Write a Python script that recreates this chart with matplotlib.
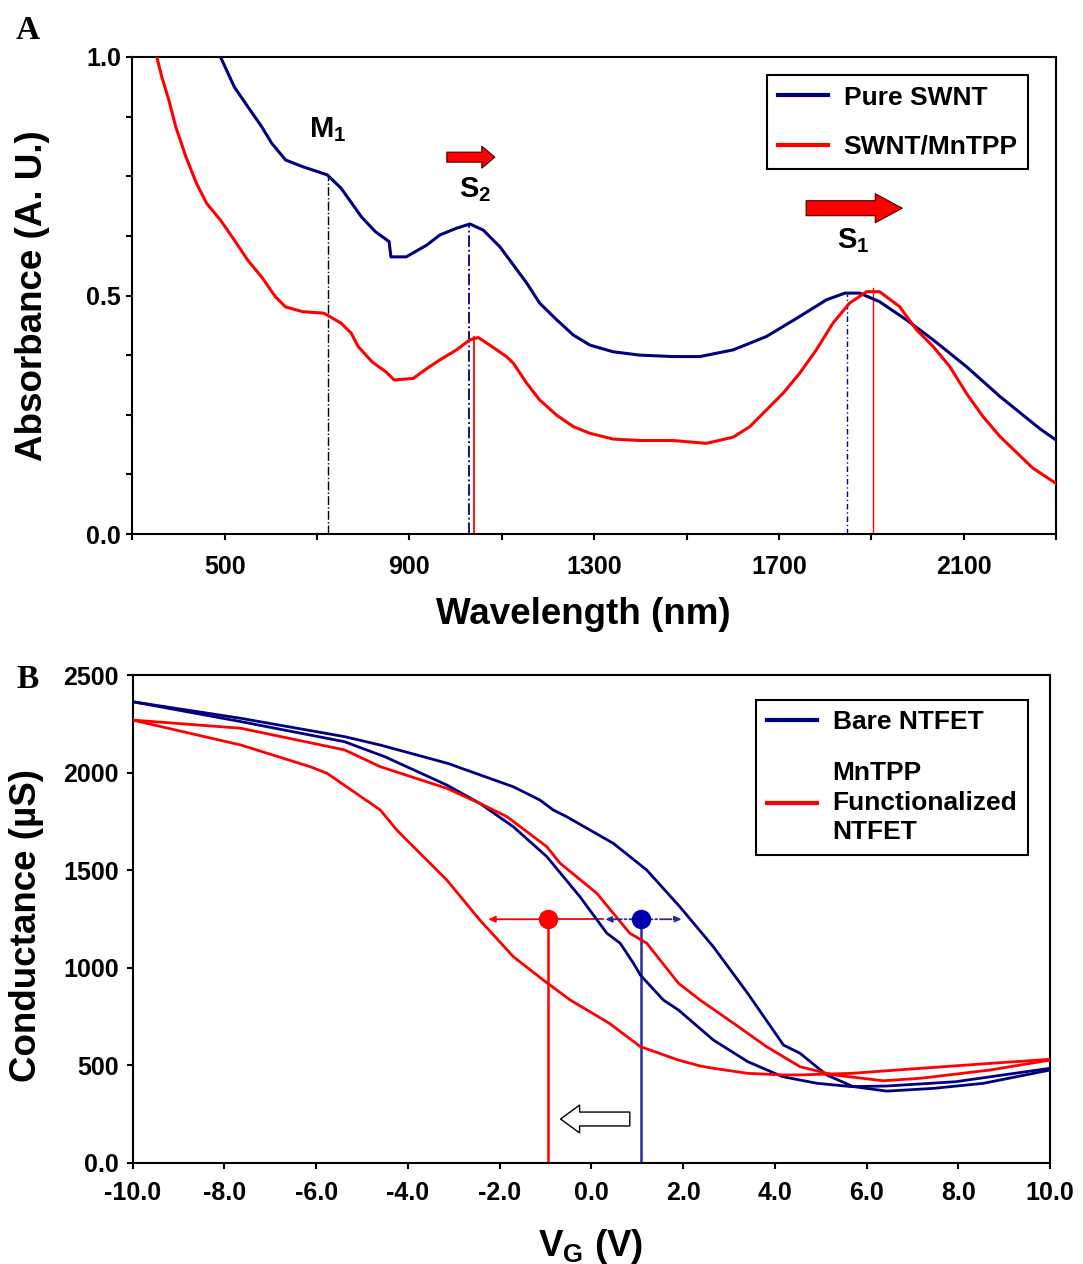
import matplotlib
matplotlib.use("Agg")
import matplotlib.pyplot as plt
from matplotlib.lines import Line2D
from matplotlib.font_manager import FontProperties

plt.rcParams['font.family'] = ['Liberation Sans', 'DejaVu Sans']
plt.rcParams['font.weight'] = 'bold'
plt.rcParams['axes.labelweight'] = 'bold'
plt.rcParams['mathtext.fontset'] = 'custom'
plt.rcParams['mathtext.rm'] = 'Liberation Sans:bold'
plt.rcParams['mathtext.it'] = 'Liberation Sans:bold'
plt.rcParams['mathtext.bf'] = 'Liberation Sans:bold'

# ---------------- Panel A data ----------------
wl_pure = [491, 521, 550, 580, 602, 632, 669, 722, 752, 796, 826, 856, 860, 893,
           938, 966, 1002, 1031, 1060, 1096, 1125, 1154, 1182, 1219, 1255, 1291,
           1341, 1399, 1471, 1529, 1601, 1673, 1745, 1803, 1843, 1875, 1918, 1976,
           2034, 2106, 2179, 2266, 2300]
abs_pure = [1.0, 0.937, 0.896, 0.854, 0.819, 0.784, 0.770, 0.753, 0.725, 0.665,
            0.634, 0.613, 0.581, 0.581, 0.606, 0.627, 0.641, 0.650, 0.637, 0.602,
            0.564, 0.526, 0.484, 0.449, 0.417, 0.396, 0.382, 0.375, 0.372, 0.372,
            0.386, 0.414, 0.456, 0.491, 0.505, 0.505, 0.487, 0.449, 0.407, 0.351,
            0.288, 0.220, 0.197]

wl_mn = [353, 364, 379, 394, 416, 439, 461, 491, 521, 550, 580, 610, 632, 669, 714,
         722, 752, 774, 789, 819, 849, 867, 908, 938, 966, 1002, 1031, 1049, 1074,
         1110, 1125, 1154, 1182, 1219, 1255, 1291, 1341, 1399, 1471, 1543, 1601,
         1637, 1673, 1709, 1745, 1781, 1817, 1853, 1890, 1918, 1961, 1998, 2034,
         2070, 2106, 2142, 2179, 2250, 2300]
abs_mn = [1.0, 0.958, 0.91, 0.854, 0.791, 0.735, 0.693, 0.658, 0.616, 0.574, 0.539,
          0.497, 0.476, 0.466, 0.463, 0.459, 0.442, 0.421, 0.393, 0.361, 0.340,
          0.323, 0.326, 0.347, 0.365, 0.386, 0.407, 0.412, 0.396, 0.372, 0.358,
          0.316, 0.281, 0.249, 0.225, 0.211, 0.199, 0.196, 0.196, 0.190, 0.203,
          0.225, 0.260, 0.295, 0.337, 0.386, 0.442, 0.484, 0.508, 0.508, 0.477,
          0.428, 0.393, 0.351, 0.295, 0.246, 0.204, 0.138, 0.106]

# peak marker lines (wavelength, height)
m1_line = (723, 0.753)
s2_pure_line = (1028, 0.650)
s2_mn_line = (1040, 0.412)
s1_pure_line = (1848, 0.503)
s1_mn_line = (1904, 0.515)

a_xticks = [300, 500, 700, 900, 1100, 1300, 1500, 1700, 1900, 2100, 2300]
a_xticklabels = ['', '500', '', '900', '', '1300', '', '1700', '', '2100', '']
a_yticks = [0, 0.125, 0.25, 0.375, 0.5, 0.625, 0.75, 0.875, 1.0]
a_yticklabels = ['0.0', '', '', '', '0.5', '', '', '', '1.0']

# ---------------- Panel B data ----------------
vg_bare_up = [-10, -7.64, -5.38, -4.6, -3.13, -1.70, -1.12, -0.83, -0.54, 0.48, 1.21,
              1.93, 2.66, 3.41, 4.19, 4.55, 5.13, 5.71, 6.44, 7.46, 8.55, 10]
g_bare_up = [2363, 2278, 2184, 2141, 2047, 1927, 1859, 1808, 1774, 1637, 1500,
             1312, 1107, 868, 603, 561, 450, 390, 367, 381, 407, 475]

vg_bare_lo = [-10, -7.64, -5.38, -4.5, -3.15, -2.43, -1.70, -0.97, -0.25, 0.34, 0.63,
              0.92, 1.07, 1.57, 1.90, 2.66, 3.41, 4.17, 4.92, 5.67, 6.43, 7.94, 10]
g_bare_lo = [2363, 2261, 2158, 2081, 1936, 1842, 1722, 1569, 1364, 1176, 1125,
             1022, 962, 834, 783, 629, 518, 441, 407, 390, 393, 415, 484]

vg_mn_up = [-10, -7.64, -5.38, -4.6, -3.15, -2.43, -1.84, -0.97, -0.68, 0.12, 0.84,
            1.21, 1.90, 2.37, 3.10, 3.82, 4.55, 5.28, 6.37, 7.19, 8.69, 10]
g_mn_up = [2269, 2227, 2116, 2030, 1919, 1842, 1774, 1620, 1535, 1381, 1176,
           1125, 920, 834, 715, 595, 492, 450, 420, 433, 475, 526]

vg_mn_lo = [-10, -7.64, -6.13, -5.76, -4.6, -4.24, -3.15, -2.43, -1.70, -1.05, -0.46,
            0.39, 1.07, 1.90, 2.37, 2.66, 3.41, 4.17, 4.55, 5.67, 7.19, 8.69, 10]
g_mn_lo = [2269, 2141, 2030, 1996, 1808, 1705, 1449, 1244, 1056, 937, 834,
           715, 595, 526, 496, 484, 458, 450, 450, 458, 484, 509, 530]

# threshold markers
vth_mn = -0.94
vth_bare = 1.08
g_mark = 1248
mn_arrow_range = (-2.25, 0.26)
bare_arrow_range = (0.30, 1.97)
shift_arrow = (0.84, -0.67, 224)

b_xticks = [-10, -8, -6, -4, -2, 0, 2, 4, 6, 8, 10]
b_xticklabels = ['-10.0', '-8.0', '-6.0', '-4.0', '-2.0', '0.0', '2.0', '4.0', '6.0', '8.0', '10.0']
b_yticks = [0, 500, 1000, 1500, 2000, 2500]
b_yticklabels = ['0.0', '500', '1000', '1500', '2000', '2500']

BLUE = '#000080'
RED = '#ff0000'

W, H = 1083, 1264
fig = plt.figure(figsize=(W / 100, H / 100), dpi=100)
axA = fig.add_axes([132.3 / W, 1 - 534 / H, 923.7 / W, 477 / H])
axB = fig.add_axes([132.6 / W, 1 - 1162.7 / H, 917.4 / W, 487.7 / H])

for ax in (axA, axB):
    for s in ax.spines.values():
        s.set_linewidth(1.5)
    ax.tick_params(direction='out', length=4, width=1.5, labelsize=18,
                   top=False, right=False)

# ---------- Panel A ----------
axA.plot(wl_pure, abs_pure, color=BLUE, lw=2.2, label='Pure SWNT', zorder=3)
axA.plot(wl_mn, abs_mn, color=RED, lw=2.2, label='SWNT/MnTPP', zorder=3)

axA.plot([m1_line[0]] * 2, [0, m1_line[1]], color='black', lw=1.0, ls='-.')
axA.plot([s2_pure_line[0]] * 2, [0, s2_pure_line[1]], color=BLUE, lw=1.3, ls='-.')
axA.plot([s2_mn_line[0]] * 2, [0, s2_mn_line[1]], color=RED, lw=1.3)
axA.plot([s1_pure_line[0]] * 2, [0, s1_pure_line[1]], color=BLUE, lw=1.0, ls=(0, (4, 2, 1, 2)))
axA.plot([s1_mn_line[0]] * 2, [0, s1_mn_line[1]], color=RED, lw=1.0)

axA.set_xlim(300, 2300)
axA.set_ylim(0, 1.0)
axA.set_xticks(a_xticks)
axA.set_xticklabels(a_xticklabels)
axA.set_yticks(a_yticks)
axA.set_yticklabels(a_yticklabels)
axA.tick_params(axis='x', pad=11)
axA.tick_params(axis='y', pad=4)

axA.text(722, 0.847, r'M$_1$', fontsize=21, ha='center', va='center')
axA.text(1042, 0.721, r'S$_2$', fontsize=21, ha='center', va='center')
axA.text(1861, 0.616, r'S$_1$', fontsize=21, ha='center', va='center')

axA.annotate('', xy=(1085, 0.79), xytext=(981, 0.79),
             arrowprops=dict(arrowstyle='simple,head_length=0.94,head_width=1.58,tail_width=0.72',
                             fc=RED, ec='#400000', lw=0.8, mutation_scale=10,
                             shrinkA=0, shrinkB=0))
axA.annotate('', xy=(1967, 0.683), xytext=(1759, 0.683),
             arrowprops=dict(arrowstyle='simple,head_length=1.94,head_width=2.09,tail_width=1.08',
                             fc=RED, ec='#400000', lw=0.8, mutation_scale=10,
                             shrinkA=0, shrinkB=0))

axA.set_xlabel('Wavelength (nm)', fontsize=26.5)
axA.xaxis.set_label_coords(0.488, -0.132)
axA.set_ylabel('Absorbance (A. U.)', fontsize=26.5)
axA.yaxis.set_label_coords(-0.089, 0.5)

legprop = FontProperties(family='Liberation Sans', weight='bold', size=19)
hA = [Line2D([], [], color=BLUE, lw=3), Line2D([], [], color=RED, lw=3)]
legA = axA.legend(hA, ['Pure SWNT', 'SWNT/MnTPP'], loc='upper right',
                  bbox_to_anchor=(0.970, 0.962), prop=legprop, fancybox=False,
                  edgecolor='black', framealpha=1, borderpad=0.4, labelspacing=0.95,
                  handlelength=1.9, handletextpad=0.6, borderaxespad=0)
legA.get_frame().set_linewidth(1.5)

# ---------- Panel B ----------
axB.plot(vg_bare_up, g_bare_up, color=BLUE, lw=2.0, zorder=3)
axB.plot(vg_bare_lo, g_bare_lo, color=BLUE, lw=2.0, zorder=3)
axB.plot(vg_mn_up, g_mn_up, color=RED, lw=2.0, zorder=3)
axB.plot(vg_mn_lo, g_mn_lo, color=RED, lw=2.0, zorder=3)

axB.plot([vth_mn, vth_mn], [0, g_mark], color=RED, lw=1.8, zorder=2)
axB.plot([vth_bare, vth_bare], [0, g_mark], color='#2b2ba0', lw=1.8, zorder=2)

axB.annotate('', xy=(mn_arrow_range[0], g_mark), xytext=(vth_mn, g_mark),
             arrowprops=dict(arrowstyle='-|>,head_length=0.4,head_width=0.18',
                             color=RED, lw=1.3, shrinkA=0, shrinkB=0))
axB.plot([vth_mn, mn_arrow_range[1]], [g_mark, g_mark], color=RED, lw=1.3)
axB.annotate('', xy=(bare_arrow_range[0], g_mark), xytext=(vth_bare, g_mark),
             arrowprops=dict(arrowstyle='-|>,head_length=0.4,head_width=0.18',
                             color='#2b2ba0', lw=1.3, ls='-.', shrinkA=0, shrinkB=0))
axB.annotate('', xy=(bare_arrow_range[1], g_mark), xytext=(vth_bare, g_mark),
             arrowprops=dict(arrowstyle='-|>,head_length=0.4,head_width=0.18',
                             color='#2b2ba0', lw=1.3, ls='-.', shrinkA=0, shrinkB=0))
axB.plot([vth_mn], [g_mark], 'o', color=RED, ms=13, zorder=4)
axB.plot([vth_bare], [g_mark], 'o', color='#0000b0', ms=13, zorder=4)

axB.annotate('', xy=(shift_arrow[1], shift_arrow[2]), xytext=(shift_arrow[0], shift_arrow[2]),
             arrowprops=dict(arrowstyle='simple,head_length=1.37,head_width=2.0,tail_width=1.0',
                             fc='white', ec='black', lw=1.0, mutation_scale=10,
                             shrinkA=0, shrinkB=0))

axB.set_xlim(-10, 10)
axB.set_ylim(0, 2500)
axB.set_xticks(b_xticks)
axB.set_xticklabels(b_xticklabels)
axB.set_yticks(b_yticks)
axB.set_yticklabels(b_yticklabels)
axB.tick_params(axis='x', pad=9)
axB.tick_params(axis='y', pad=6)

axB.set_xlabel(r'V$_\mathrm{G}$ (V)', fontsize=26.5)
axB.xaxis.set_label_coords(0.4997, -0.131)
axB.set_ylabel('Conductance (µS)', fontsize=26.5)
axB.yaxis.set_label_coords(-0.097, 0.487)

hB = [Line2D([], [], color=BLUE, lw=3), Line2D([], [], color=RED, lw=3)]
legB = axB.legend(hB, ['Bare NTFET', 'MnTPP\nFunctionalized\nNTFET'], loc='upper right',
                  bbox_to_anchor=(0.976, 0.949), prop=legprop, fancybox=False,
                  edgecolor='black', framealpha=1, borderpad=0.4, labelspacing=1.0,
                  handlelength=1.9, handletextpad=0.6, borderaxespad=0)
legB.get_frame().set_linewidth(1.5)
legB.get_texts()[1].set_linespacing(1.3)

# panel letters
fig.text(15.5 / W, 1 - 39.3 / H, 'A', fontsize=24, family='Liberation Serif',
         weight='bold', va='baseline', ha='left')
fig.text(16.2 / W, 1 - 688 / H, 'B', fontsize=24, family='Liberation Serif',
         weight='bold', va='baseline', ha='left')

fig.savefig('out.png', dpi=100)
